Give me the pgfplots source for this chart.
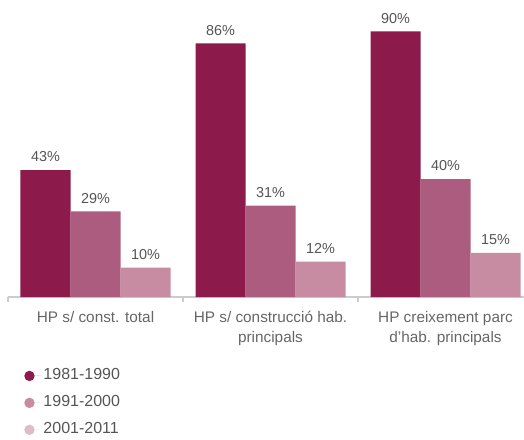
\documentclass[border=0pt]{standalone}
\usepackage{pgfplots}
\pgfplotsset{compat=1.18}
\usepackage{fontspec}
\setmainfont{Liberation Sans}
\definecolor{cA}{HTML}{8C1B4B}
\definecolor{cB}{HTML}{AC5D7F}
\definecolor{cC}{HTML}{C78BA2}
\definecolor{lA}{HTML}{8E1B4B}
\definecolor{lB}{HTML}{C98BA2}
\definecolor{lC}{HTML}{E0BBC8}
\definecolor{txt}{HTML}{666666}
\definecolor{vtxt}{HTML}{555555}
\definecolor{axl}{HTML}{CCCCCC}
\begin{document}
\begin{tikzpicture}
\begin{axis}[
  name=ax,
  scale only axis,
  x=131.25pt, y=2.2125pt,
  xmin=-0.5, xmax=2.45,
  ymin=0, ymax=95,
  clip=false,
  axis x line=bottom,
  axis y line=none,
  axis line style={draw=axl, line width=0.8pt, -},
  xtick={0,1,2},
  xticklabels={{HP s/ const. total},{HP s/ construcció hab.\\principals},{HP creixement parc\\d’hab. principals}},
  major tick length=0pt,
  minor xtick={-0.5,0.5,1.5},
  minor tick length=3.5pt,
  tick align=outside,
  minor tick style={draw=axl, line width=0.8pt},
  xticklabel style={align=center, text=txt, font=\fontsize{11.5}{15}\selectfont, yshift=-7pt},
  ytick=\empty,
  ybar,
  bar width=37.5pt,
  nodes near coords={\pgfmathprintnumber[assume math mode=true]{\pgfplotspointmeta}\%},
  every node near coord/.append style={text=vtxt, font=\fontsize{10.8}{12}\selectfont, anchor=south, yshift=2.5pt},
  legend image code/.code={\fill[#1] (0pt,0pt) circle (3.9pt); \path (0pt,0pt) -- (9pt,0pt);},
  legend style={at={(0,0)}, anchor=north west, xshift=9pt, yshift=-50pt, draw=none, fill=none,
    font=\fontsize{12}{13}\selectfont, text=vtxt, row sep=6.2pt,
    nodes={text height=8.5pt, text depth=2.5pt, inner sep=1.5pt}},
  legend cell align=left,
]
\addplot[fill=cA, draw=none, bar shift=-37.5pt, forget plot] coordinates {(0,43) (1,86) (2,90)};
\addplot[fill=cB, draw=none, bar shift=0pt, forget plot] coordinates {(0,29) (1,31) (2,40)};
\addplot[fill=cC, draw=none, bar shift=37.5pt, forget plot] coordinates {(0,10) (1,12) (2,15)};
\addlegendimage{fill=lA, draw=none}
\addlegendentry{1981-1990}
\addlegendimage{fill=lB, draw=none}
\addlegendentry{1991-2000}
\addlegendimage{fill=lC, draw=none}
\addlegendentry{2001-2011}
\end{axis}
\pgfresetboundingbox
\path[use as bounding box] ([shift={(-6pt,-106.5pt)}]ax.south west) rectangle ([shift={(387pt,222.75pt)}]ax.south west);
\end{tikzpicture}
\end{document}
